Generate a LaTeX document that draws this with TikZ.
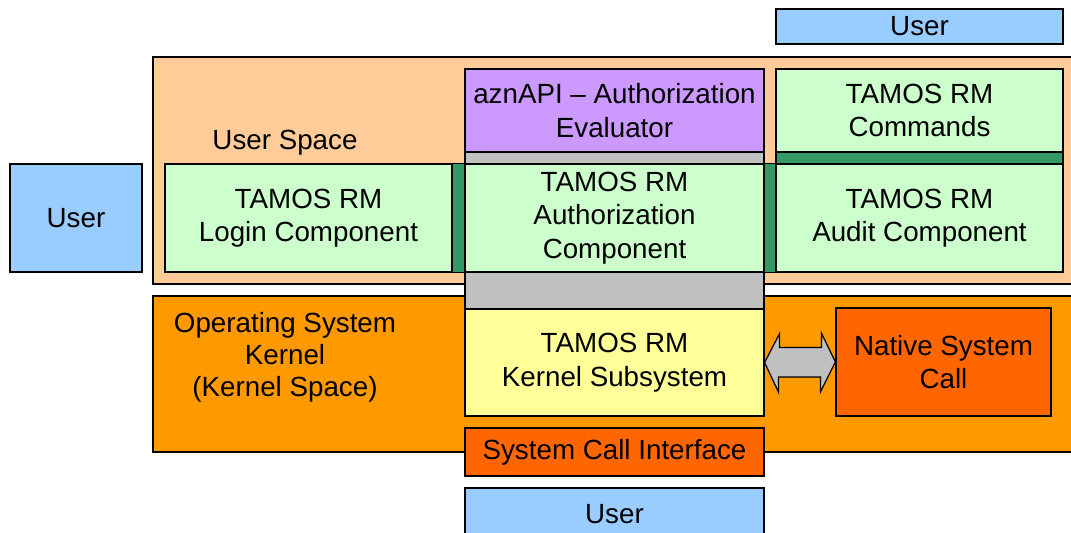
\documentclass[tikz,border=0pt]{standalone}
\usepackage{fontspec}
\setmainfont{Liberation Sans}
\usetikzlibrary{calc}

\definecolor{userblue}{HTML}{99CCFF}
\definecolor{userspace}{HTML}{FFCC99}
\definecolor{aznpurple}{HTML}{CC99FF}
\definecolor{rmgreen}{HTML}{CCFFCC}
\definecolor{bandgreen}{HTML}{339966}
\definecolor{bandgray}{HTML}{C0C0C0}
\definecolor{kernelorange}{HTML}{FF9900}
\definecolor{subyellow}{HTML}{FFFF99}
\definecolor{callred}{HTML}{FF6600}

\begin{document}
\begin{tikzpicture}[x=0.02cm,y=-0.02cm,
  box/.style={draw, line width=0.7pt},
  comp/.style={box, align=center, inner sep=0pt, font=\fontsize{15.8}{19}\selectfont},
  lbl/.style={align=center, font=\fontsize{15.8}{19}\selectfont}]
  \useasboundingbox[fill=white] (0,0) rectangle (1071,533);

  % Regions
  \draw[box, fill=userspace] (153,57) rectangle (1090,284);
  \draw[box, fill=kernelorange] (153,296) rectangle (1090,452);
  \node[lbl] (uspace) at (285,143) {User Space};
  \node[lbl, font=\fontsize{15.8}{18.2}\selectfont] (kspace) at (285,357) {Operating System\\Kernel\\(Kernel Space)};

  % Users
  \node[comp, fill=userblue, minimum width=5.74cm, minimum height=0.70cm] (usertop) at (919.5,26.5) {User};
  \node[comp, fill=userblue, minimum width=2.64cm, minimum height=2.16cm] (userleft) at (76,218) {User};
  \node[comp, fill=userblue, minimum width=5.98cm, minimum height=1.04cm] (userbot) at (614.5,514) {User};

  % User space components
  \node[comp, fill=aznpurple, minimum width=5.98cm, minimum height=1.66cm] (azn) at (614.5,110.5) {aznAPI -- Authorization\\Evaluator};
  \node[comp, fill=rmgreen, minimum width=5.74cm, minimum height=1.66cm] (cmds) at (919.5,110.5) {TAMOS RM\\Commands};
  \draw[box, fill=bandgray] (465,152) rectangle (764,164);
  \draw[box, fill=bandgreen] (776,152) rectangle (1063,164);
  \node[comp, fill=rmgreen, minimum width=5.74cm, minimum height=2.16cm] (login) at (308.5,218) {TAMOS RM\\Login Component};
  \node[comp, fill=rmgreen, minimum width=5.98cm, minimum height=2.16cm] (auth) at (614.5,218) {TAMOS RM\\Authorization\\Component};
  \node[comp, fill=rmgreen, minimum width=5.74cm, minimum height=2.16cm] (audit) at (919.5,218) {TAMOS RM\\Audit Component};
  \draw[box, fill=bandgreen] (login.north east) rectangle (auth.south west);
  \draw[box, fill=bandgreen] (auth.north east) rectangle (audit.south west);

  % Kernel components
  \draw[box, fill=bandgray] (465,272) rectangle (764,309);
  \node[comp, fill=subyellow, minimum width=5.98cm, minimum height=2.14cm] (kernelsub) at (614.5,362.5) {TAMOS RM\\Kernel Subsystem};
  \node[comp, fill=callred, minimum width=4.30cm, minimum height=2.16cm] (native) at (943.5,362) {Native System\\Call};
  \node[comp, fill=callred, minimum width=5.98cm, minimum height=0.96cm] (sci) at (614.5,452) {System Call Interface};

  % Double arrow
  \draw[box, fill=bandgray] (kernelsub.east) -- ++(15,-29) -- ++(0,14) -- ++(42,0) -- ++(0,-14)
    -- (native.west) -- ++(-15,30) -- ++(0,-15) -- ++(-42,0) -- ++(0,15) -- cycle;
\end{tikzpicture}
\end{document}
